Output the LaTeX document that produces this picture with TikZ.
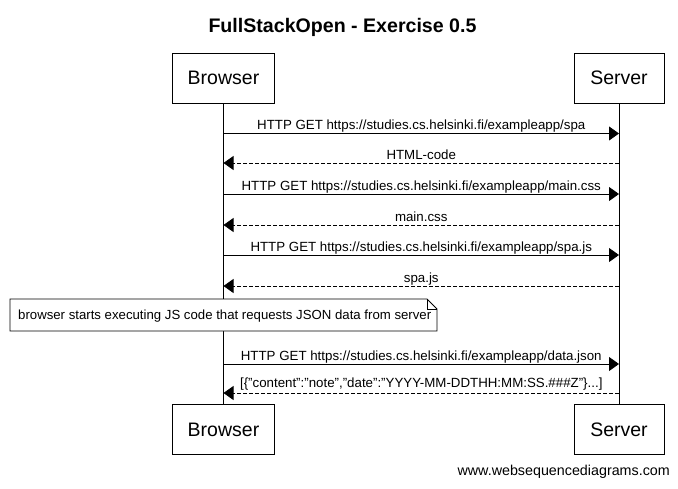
\documentclass[tikz,border=0pt]{standalone}
\usepackage{fontspec}
\setmainfont{Liberation Sans}
\usetikzlibrary{arrows.meta}
\begin{document}
\begin{tikzpicture}[x=1pt,y=-1pt,
  actor/.style={draw=black, line width=0.8pt, fill=white, minimum width=102pt, minimum height=50pt, font=\fontsize{19.5}{24}\selectfont, inner sep=0pt},
  lifeline/.style={draw=black, line width=0.8pt},
  msg/.style={draw=black, line width=0.8pt, -{Triangle[length=10pt,width=14pt]}},
  reply/.style={msg, dash pattern=on 4pt off 2pt},
  lbl/.style={font=\fontsize{13.3}{15}\selectfont, inner sep=0pt, anchor=base, yshift=4pt},
  notebox/.style={draw=black, line width=0.8pt, fill=white}
]
\useasboundingbox (0,0) rectangle (678,488);

% title
\node[font=\bfseries\fontsize{19.6}{24}\selectfont, anchor=base] (title) at (342.5,32) {FullStackOpen - Exercise 0.5};

% participants, top and bottom
\node[actor] (btop) at (223.5,78) {Browser};
\node[actor, minimum width=90pt] (stop) at (619,78) {Server};
\node[actor] (bbot) at (223.5,429.5) {Browser};
\node[actor, minimum width=90pt] (sbot) at (619,429.5) {Server};

% lifelines
\draw[lifeline] (btop.south) -- (bbot.north);
\draw[lifeline] (stop.south) -- (sbot.north);

% message anchor points on the lifelines
\foreach \n/\y in {1/133.5,2/163,3/194,4/225,5/255,6/286,7/364,8/393}{
  \coordinate (b\n) at (223.5,\y);
  \coordinate (s\n) at (619,\y);
}

% messages
\draw[msg] (b1) -- node[lbl] {HTTP GET https://studies.cs.helsinki.fi/exampleapp/spa} (s1);
\draw[reply] (s2) -- node[lbl] {HTML-code} (b2);
\draw[msg] (b3) -- node[lbl] {HTTP GET https://studies.cs.helsinki.fi/exampleapp/main.css} (s3);
\draw[reply] (s4) -- node[lbl] {main.css} (b4);
\draw[msg] (b5) -- node[lbl] {HTTP GET https://studies.cs.helsinki.fi/exampleapp/spa.js} (s5);
\draw[reply] (s6) -- node[lbl] {spa.js} (b6);

% note with folded corner
\draw[notebox] (10,299) -- (427,299) -- (437,309) -- (437,331) -- (10,331) -- cycle;
\draw[line width=0.8pt] (427,299) -- (427,309) -- (437,309);
\node[font=\fontsize{13.2}{15}\selectfont, inner sep=0pt, anchor=west] (note) at (18,316) {browser starts executing JS code that requests JSON data from server};

\draw[msg] (b7) -- node[lbl] {HTTP GET https://studies.cs.helsinki.fi/exampleapp/data.json} (s7);
\draw[reply] (s8) -- node[lbl, yshift=2pt] {[\{"content":"note","date":"YYYY-MM-DDTHH:MM:SS.\#\#\#Z"\}...]} (b8);

% footer
\node[font=\fontsize{14.3}{16}\selectfont, anchor=east, inner sep=0pt] (footer) at (670,472) {www.websequencediagrams.com};
\end{tikzpicture}
\end{document}
